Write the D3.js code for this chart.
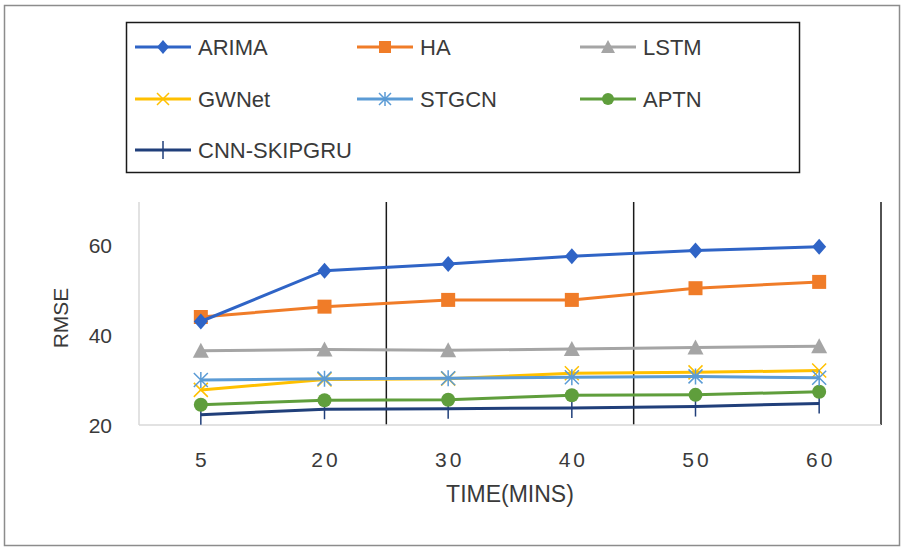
<!doctype html>
<html lang="en">
<head>
<meta charset="utf-8">
<script src="https://cdn.jsdelivr.net/npm/d3@7"></script>
<style type="text/css">
body {
    margin: 0;
    background: #ffffff;
}
svg text {
    font-family: "Liberation Sans", Arial, sans-serif;
    fill: #3a3a3a;
}
</style>
</head>
<body>
<svg id="chart" width="904" height="547"></svg>
<script>
// data
var times = ["5", "20", "30", "40", "50", "60"];
var arima = [43.0, 54.3, 55.8, 57.5, 58.8, 59.6];
var ha    = [44.0, 46.3, 47.8, 47.8, 50.4, 51.8];
var lstm  = [36.5, 36.8, 36.6, 36.9, 37.2, 37.5];
var gwnet = [27.8, 30.1, 30.3, 31.5, 31.7, 32.1];
var stgcn = [30.0, 30.3, 30.4, 30.6, 30.8, 30.5];
var aptn  = [24.5, 25.5, 25.6, 26.6, 26.7, 27.4];
var skip  = [22.3, 23.5, 23.6, 23.8, 24.1, 24.8];
var yTicks = [20, 40, 60];

var series = [
    {name: "ARIMA", values: arima, color: "#2f64c6", marker: "diamond"},
    {name: "HA", values: ha, color: "#f07c28", marker: "square"},
    {name: "LSTM", values: lstm, color: "#a5a5a5", marker: "triangle"},
    {name: "GWNet", values: gwnet, color: "#ffc000", marker: "x"},
    {name: "STGCN", values: stgcn, color: "#5b9bd5", marker: "star"},
    {name: "APTN", values: aptn, color: "#5f9e3c", marker: "circle"},
    {name: "CNN-SKIPGRU", values: skip, color: "#203f7a", marker: "plus"}
];
// draw order: back to front as in the picture
var drawOrder = [6, 5, 3, 4, 2, 1, 0];

var svg = d3.select("#chart");

// outer frame
svg.append("rect")
    .attr("x", 4.5).attr("y", 5.5)
    .attr("width", 895).attr("height", 540)
    .attr("fill", "none").attr("stroke", "#8c8c8c").attr("stroke-width", 1.5);

var plotLeft = 139, plotRight = 881, plotTop = 200, plotBottom = 425;

var x = d3.scaleBand().domain(times).range([plotLeft, plotRight]);
var y = d3.scaleLinear().domain([20, 70]).range([plotBottom, plotTop]);

// vertical lines every second category
var edges = [2, 4, 6];
svg.selectAll(".vline").data(edges).enter().append("line")
    .attr("x1", function(i) { return plotLeft + i * x.bandwidth(); })
    .attr("x2", function(i) { return plotLeft + i * x.bandwidth(); })
    .attr("y1", plotTop + 2).attr("y2", plotBottom)
    .attr("stroke", "#1a1a1a").attr("stroke-width", 1.5);

// axis lines
svg.append("line")
    .attr("x1", plotLeft).attr("x2", plotLeft).attr("y1", plotTop + 2).attr("y2", plotBottom)
    .attr("stroke", "#d9d9d9").attr("stroke-width", 1.5);
svg.append("line")
    .attr("x1", plotLeft).attr("x2", plotRight).attr("y1", plotBottom).attr("y2", plotBottom)
    .attr("stroke", "#d9d9d9").attr("stroke-width", 1.5);

// y tick labels
svg.selectAll(".ytick").data(yTicks).enter().append("text")
    .attr("x", 112)
    .attr("y", function(d) { return y(d) + 7.5; })
    .attr("text-anchor", "end")
    .attr("font-size", 21)
    .text(function(d) { return d; });

// x tick labels
svg.selectAll(".xtick").data(times).enter().append("text")
    .attr("x", function(d) { return x(d) + x.bandwidth() / 2 + 1.5; })
    .attr("y", 467)
    .attr("text-anchor", "middle")
    .attr("font-size", 21)
    .attr("letter-spacing", 3)
    .text(function(d) { return d; });

// axis titles
svg.append("text")
    .attr("x", 510).attr("y", 502)
    .attr("text-anchor", "middle")
    .attr("font-size", 23)
    .text("TIME(MINS)");
svg.append("text")
    .attr("transform", "translate(68,318) rotate(-90)")
    .attr("text-anchor", "middle")
    .attr("font-size", 21)
    .text("RMSE");

function drawMarker(g, type, color, cx, cy, s) {
    if (type === "diamond") {
        g.append("path")
            .attr("d", "M" + cx + "," + (cy - s - 1) + "L" + (cx + s) + "," + cy + "L" + cx + "," + (cy + s + 1) + "L" + (cx - s) + "," + cy + "Z")
            .attr("fill", color);
    } else if (type === "square") {
        g.append("rect")
            .attr("x", cx - s).attr("y", cy - s)
            .attr("width", 2 * s).attr("height", 2 * s)
            .attr("fill", color);
    } else if (type === "triangle") {
        g.append("path")
            .attr("d", "M" + cx + "," + (cy - s - 1) + "L" + (cx + s + 1) + "," + (cy + s) + "L" + (cx - s - 1) + "," + (cy + s) + "Z")
            .attr("fill", color);
    } else if (type === "circle") {
        g.append("circle")
            .attr("cx", cx).attr("cy", cy).attr("r", s)
            .attr("fill", color);
    } else if (type === "x") {
        g.append("path")
            .attr("d", "M" + (cx - s) + "," + (cy - s) + "L" + (cx + s) + "," + (cy + s) + "M" + (cx + s) + "," + (cy - s) + "L" + (cx - s) + "," + (cy + s))
            .attr("stroke", color).attr("stroke-width", 1.5).attr("fill", "none");
    } else if (type === "star") {
        g.append("path")
            .attr("d", "M" + (cx - s) + "," + (cy - s) + "L" + (cx + s) + "," + (cy + s) + "M" + (cx + s) + "," + (cy - s) + "L" + (cx - s) + "," + (cy + s) +
                "M" + cx + "," + (cy - s - 1) + "L" + cx + "," + (cy + s + 1))
            .attr("stroke", color).attr("stroke-width", 1.5).attr("fill", "none");
    } else if (type === "plus") {
        g.append("path")
            .attr("d", "M" + cx + "," + (cy - s - 3) + "L" + cx + "," + (cy + s + 3))
            .attr("stroke", color).attr("stroke-width", 1.5).attr("fill", "none");
    }
}

var line = d3.line()
    .x(function(d, i) { return x(times[i]) + x.bandwidth() / 2; })
    .y(function(d) { return y(d); });

drawOrder.forEach(function(k) {
    var s = series[k];
    var g = svg.append("g");
    g.append("path")
        .attr("d", line(s.values))
        .attr("fill", "none")
        .attr("stroke", s.color)
        .attr("stroke-width", 3);
    s.values.forEach(function(v, i) {
        drawMarker(g, s.marker, s.color, x(times[i]) + x.bandwidth() / 2, y(v), 7);
    });
});

// legend
svg.append("rect")
    .attr("x", 126.5).attr("y", 22.5)
    .attr("width", 673).attr("height", 150)
    .attr("fill", "#ffffff").attr("stroke", "#1a1a1a").attr("stroke-width", 1.5);

var colX = [135, 357, 580];
var rowY = [47, 99, 150];
series.forEach(function(s, i) {
    var lx = colX[i % 3], ly = rowY[Math.floor(i / 3)];
    var g = svg.append("g");
    g.append("line")
        .attr("x1", lx).attr("x2", lx + 56)
        .attr("y1", ly).attr("y2", ly)
        .attr("stroke", s.color).attr("stroke-width", 3);
    drawMarker(g, s.marker, s.color, lx + 28, ly, 6);
    g.append("text")
        .attr("x", lx + 63).attr("y", ly + 8)
        .attr("font-size", 22)
        .text(s.name);
});
</script>
</body>
</html>
